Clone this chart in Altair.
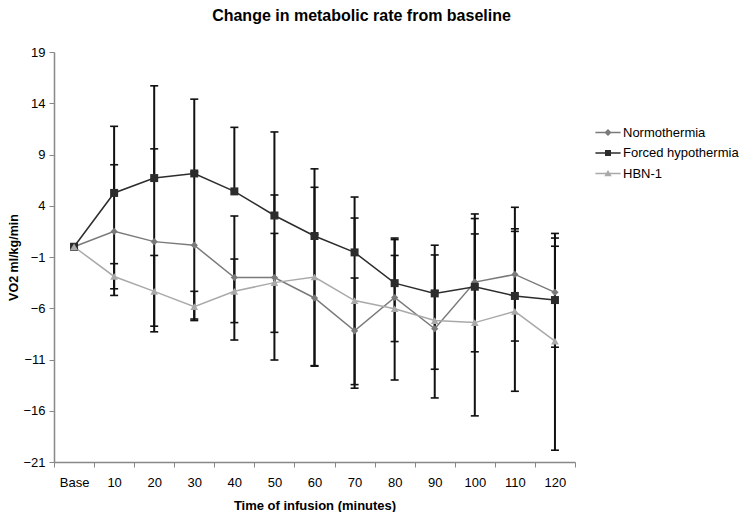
import altair as alt
import pandas as pd

# ---------------- data ----------------
categories = ["Base", "10", "20", "30", "40", "50", "60", "70", "80", "90", "100", "110", "120"]
series_names = ["Normothermia", "Forced hypothermia", "HBN-1"]

normo = [0, 1.5, 0.5, 0.15, -3.0, -3.0, -5.0, -8.2, -4.95, -8.0, -3.45, -2.7, -4.45]
normo_hi = [None, 8.0, 9.55, 7.3, 3.0, 5.05, 1.2, -3.05, -0.85, -4.3, 3.2, 3.85, 0.85]
normo_lo = [None, -4.75, -8.3, -7.2, -9.1, -11.05, -11.65, -13.8, -9.25, -11.95, -10.25, -9.2, -9.8]

forced = [0, 5.25, 6.7, 7.15, 5.4, 3.05, 1.05, -0.55, -3.55, -4.55, -3.9, -4.8, -5.2]
forced_hi = [None, 11.75, 15.7, 14.4, 11.65, 11.2, 7.6, 4.85, 0.7, -0.8, 2.75, 1.75, 0.05]
forced_lo = [None] * 13

hbn = [0, -2.9, -4.35, -5.85, -4.35, -3.5, -2.95, -5.25, -6.05, -7.2, -7.4, -6.3, -9.2]
hbn_hi = [None, -1.65, -0.85, -4.35, -1.2, 1.3, 5.8, 2.8, 0.85, 0.15, 1.25, 1.5, 1.3]
hbn_lo = [None, -4.1, -7.75, -7.05, -7.4, -8.35, -11.6, -13.45, -13.0, -14.75, -16.5, -14.1, -19.85]

y_ticks = [19, 14, 9, 4, -1, -6, -11, -16, -21]

# ---------------- styling ----------------
series_colors = ["#7a7a7a", "#2c2c2c", "#a9a9a9"]
series_shapes = ["diamond", "square", "triangle-up"]
series_sizes = [52, 64, 60]
# legend glyphs: a thin filled bar (the line) plus the filled marker
legend_paths = [
    "M-2.1,-0.11H2.1V0.11H-2.1Z M0,-0.6L0.6,0L0,0.6L-0.6,0Z",
    "M-2.1,-0.11H2.1V0.11H-2.1Z M-0.5,-0.5H0.5V0.5H-0.5Z",
    "M-2.1,-0.11H2.1V0.11H-2.1Z M0,-0.6L0.62,0.45H-0.62Z",
]
FONT = "Liberation Sans"

rows = []
for name, vals, lo, hi in [
    (series_names[0], normo, normo_lo, normo_hi),
    (series_names[1], forced, forced_lo, forced_hi),
    (series_names[2], hbn, hbn_lo, hbn_hi),
]:
    for i, t in enumerate(categories):
        rows.append({"time": t, "series": name, "value": vals[i], "lo": lo[i], "hi": hi[i]})
df = pd.DataFrame(rows)

x = alt.X(
    "time:N",
    sort=categories,
    scale=alt.Scale(type="band", paddingInner=0, paddingOuter=0),
    axis=alt.Axis(
        title="Time of infusion (minutes)",
        labelAngle=0,
        tickBand="extent",
        domainColor="#888888",
        domainWidth=1.5,
        tickColor="#888888",
        tickWidth=1,
        tickSize=5,
        labelFont=FONT,
        labelFontSize=13,
        labelColor="#000000",
        labelPadding=9,
        titleFont=FONT,
        titleFontSize=13,
        titleFontWeight="bold",
        titleColor="#000000",
        titlePadding=10,
    ),
)
yscale = alt.Scale(domain=[-21, 19], nice=False, zero=False)
yaxis = alt.Axis(
    title="VO2 ml/kg/min",
    values=y_ticks,
    grid=False,
    domainColor="#888888",
    domainWidth=1.5,
    tickColor="#888888",
    tickSize=5,
    labelFont=FONT,
    labelFontSize=13,
    labelColor="#000000",
    labelPadding=4,
    titleFont=FONT,
    titleFontSize=12.5,
    titleFontWeight="bold",
    titleColor="#000000",
    titlePadding=2,
)
color_scale = alt.Scale(domain=series_names, range=series_colors)
legend = alt.Legend(
    title=None,
    orient="none",
    legendX=547.5,
    legendY=74,
    padding=0,
    labelFont=FONT,
    labelFontSize=13,
    labelColor="#000000",
    labelOffset=8.5,
    rowPadding=6.5,
    symbolSize=144,
    symbolStrokeWidth=0,
    symbolOpacity=1,
)

base = alt.Chart(df)

rules = (
    base.transform_filter("isValid(datum.hi)")
    .transform_calculate(lo2="isValid(datum.lo) ? datum.lo : datum.value")
    .mark_rule(color="#111111", strokeWidth=2)
    .encode(x=x, y=alt.Y("lo2:Q", scale=yscale, axis=yaxis), y2="hi:Q")
)
caps = (
    base.transform_fold(["lo", "hi"], as_=["end", "cap"])
    .transform_filter("isValid(datum.cap)")
    .mark_tick(color="#111111", thickness=1.6, size=8, opacity=1)
    .encode(x=x, y=alt.Y("cap:Q", scale=yscale, axis=yaxis))
)
lines = base.mark_line(strokeWidth=1.5).encode(
    x=x,
    y=alt.Y("value:Q", scale=yscale, axis=yaxis),
    color=alt.Color("series:N", scale=color_scale, legend=legend),
)

# visible markers, one layer per series
point_layers = []
for name, col, shp, sz in zip(series_names, series_colors, series_shapes, series_sizes):
    point_layers.append(
        base.transform_filter(f"datum.series === '{name}'")
        .mark_point(filled=True, opacity=1, shape=shp, size=sz, color=col)
        .encode(x=x, y=alt.Y("value:Q", scale=yscale, axis=yaxis))
    )

# invisible layer that carries the legend glyphs (line + marker)
legend_carrier = base.mark_point(filled=True, opacity=0, size=144).encode(
    x=x,
    y=alt.Y("value:Q", scale=yscale, axis=yaxis),
    color=alt.Color("series:N", scale=color_scale, legend=legend),
    shape=alt.Shape("series:N", scale=alt.Scale(domain=series_names, range=legend_paths), legend=legend),
)

chart = (
    alt.layer(rules, caps, lines, *point_layers, legend_carrier)
    .properties(
        width=521,
        height=410,
        padding={"left": 46, "top": 44, "right": 167, "bottom": 50},
        autosize=alt.AutoSizeParams(type="none"),
        title=alt.Title(
            "Change in metabolic rate from baseline",
            font=FONT,
            fontSize=16,
            fontWeight="bold",
            color="#000000",
            anchor="middle",
            frame="group",
            dx=47,
            offset=9,
            baseline="alphabetic",
        ),
    )
    .configure_view(stroke=None)
)

chart.save("out.html", embed_options={"renderer": "svg", "actions": False})
